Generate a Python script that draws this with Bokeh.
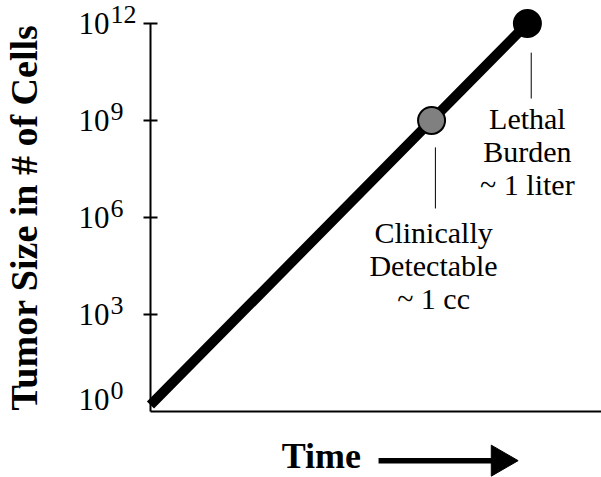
import math
from bokeh.plotting import figure
from bokeh.models import FixedTicker, Range1d
from bokeh.core.properties import value
from bokeh.embed import file_html
from bokeh.resources import INLINE

# ---- data ----
growth_time = [0.0, 8.8, 11.8]          # arbitrary time units
log_cells = [0.2, 9.0, 12.0]            # log10(# of cells)
marker_time = [8.8, 11.8]
marker_log = [9.0, 12.0]
marker_fill = ["#808080", "#000000"]
marker_text = ["Clinically\nDetectable\n~ 1 cc", "Lethal\nBurden\n~ 1 liter"]
tick_exponents = [0, 3, 6, 9, 12]
tick_base = "10"
y_title = "Tumor Size in # of Cells"
x_title = "Time"

SERIF = "Liberation Serif"
X_END = 14.12

p = figure(width=601, height=477, output_backend="svg", toolbar_location=None,
           x_range=Range1d(-4.695, X_END), y_range=Range1d(-2.041, 12.713),
           min_border=0, min_border_left=0, min_border_right=0,
           min_border_top=0, min_border_bottom=0)
p.outline_line_color = None
p.grid.visible = False
p.background_fill_color = "white"
p.border_fill_color = "white"

# x axis: plain line at 10^0
p.xaxis.fixed_location = 0
p.xaxis.bounds = (0, X_END)
p.xaxis.ticker = FixedTicker(ticks=[])
p.xaxis.axis_line_width = 2
p.xaxis.axis_line_color = "black"
p.xaxis.major_tick_line_color = None
p.xaxis.minor_tick_line_color = None

# y axis at time 0
p.yaxis.fixed_location = 0
p.yaxis.bounds = (0, 12)
p.yaxis.ticker = FixedTicker(ticks=[3, 6, 9, 12])
p.yaxis.major_label_overrides = {3: "", 6: "", 9: "", 12: ""}
p.yaxis.major_label_standoff = 0
p.yaxis.axis_line_width = 2
p.yaxis.axis_line_color = "black"
p.yaxis.major_tick_line_width = 2
p.yaxis.major_tick_line_color = "black"
p.yaxis.major_tick_in = 7
p.yaxis.major_tick_out = 7
p.yaxis.minor_tick_line_color = None
p.yaxis.axis_label = y_title
p.yaxis.axis_label_text_font = SERIF
p.yaxis.axis_label_text_font_style = "bold"
p.yaxis.axis_label_text_font_size = "38px"
p.yaxis.axis_label_text_color = "black"
p.yaxis.axis_label_standoff = 99

# tick labels 10^n
label_y = [max(e, 0.37) for e in tick_exponents]
p.text(x=[-1.283] * len(tick_exponents), y=label_y, text=[tick_base] * len(tick_exponents),
       text_font=value(SERIF), text_font_size="31px", text_align="right",
       text_baseline="middle", text_color="black")
p.text(x=[-1.252] * len(tick_exponents), y=[v + 0.29 for v in label_y],
       text=[str(e) for e in tick_exponents],
       text_font=value(SERIF), text_font_size="26px", text_align="left",
       text_baseline="middle", text_color="black")

# growth line
p.line(growth_time, log_cells, line_width=10, line_color="black", line_cap="butt")

# leader lines
lead_dx = 0.12
lead_top = [0.83, 0.9]
lead_bot = [2.72, 2.32]
p.segment(x0=[t + lead_dx for t in marker_time], y0=[v - a for v, a in zip(marker_log, lead_top)],
          x1=[t + lead_dx for t in marker_time], y1=[v - b for v, b in zip(marker_log, lead_bot)],
          line_color="black", line_width=1)

# markers
p.scatter(marker_time, marker_log, size=27, fill_color=marker_fill,
          line_color="black", line_width=2)

# annotation texts
p.text(x=marker_time, y=marker_log, text=marker_text, x_offset=[2, 0], y_offset=[95, 78],
       text_font=value(SERIF), text_font_size="30px", text_align="center",
       text_baseline="top", text_line_height=1.0, text_color="black")

# x title with arrow
p.text(x=[5.35], y=[-1.39], text=[x_title], text_font=value(SERIF), text_font_size="36px",
       text_font_style="bold", text_align="center", text_baseline="middle", text_color="black")
p.segment(x0=[7.14], y0=[-1.52], x1=[10.8], y1=[-1.52], line_width=5.5,
          line_color="black", line_cap="butt")
p.scatter(x=[10.95], y=[-1.52], marker="triangle", size=31, angle=-math.pi / 2,
          fill_color="black", line_color="black", line_width=1)

open("out.html", "w").write(file_html(p, INLINE))
